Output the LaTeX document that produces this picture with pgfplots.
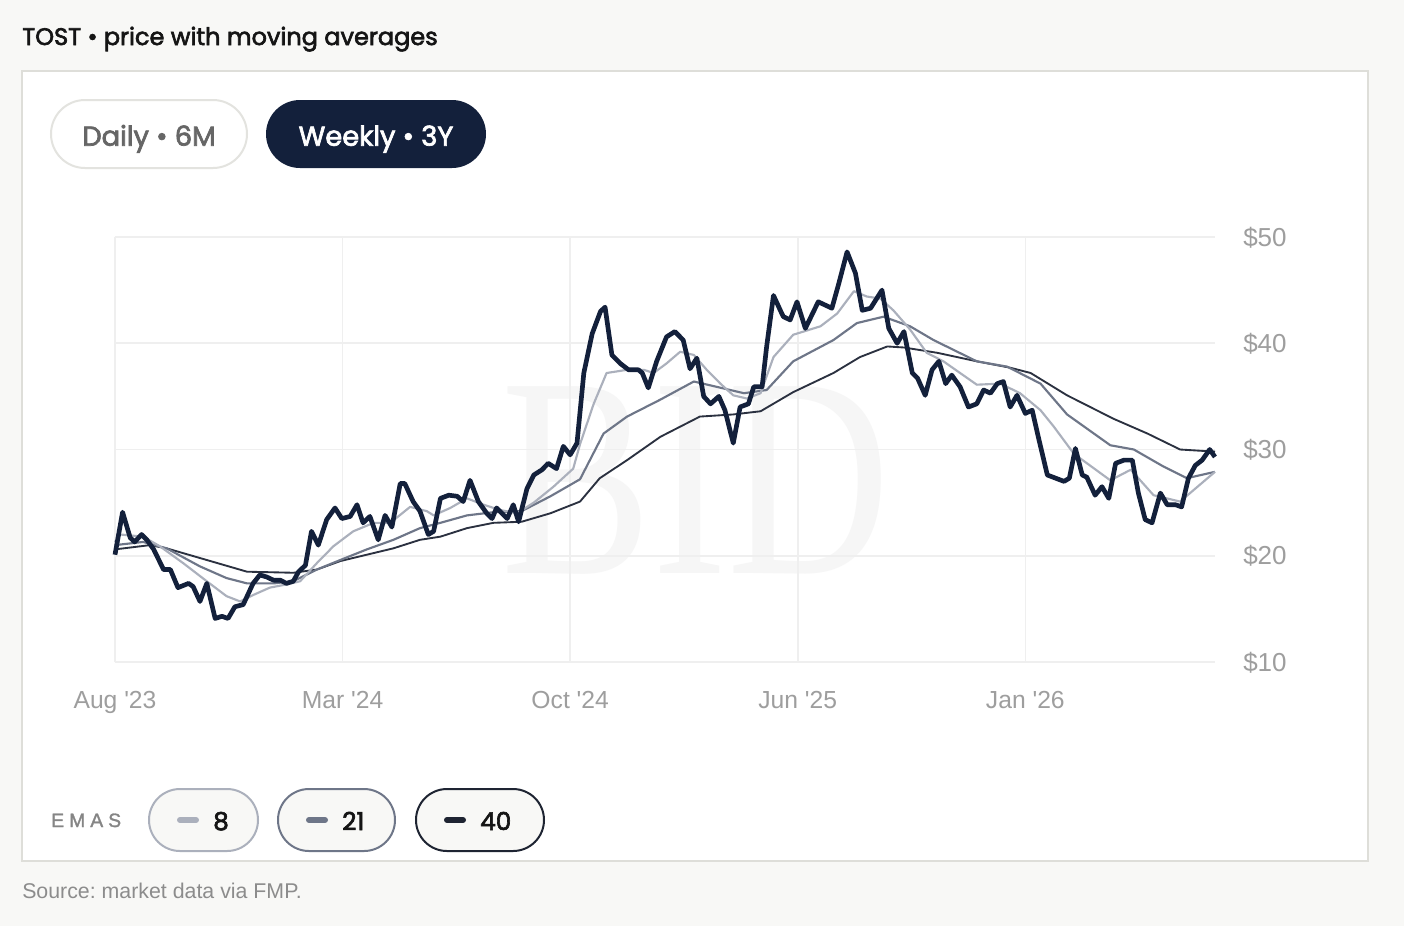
\documentclass[border=0pt]{standalone}
\usepackage{pgfplots}
\pgfplotsset{compat=1.18}
\usepackage{fontspec}
\setmainfont{Liberation Sans}
\newfontfamily\pop{Poppins}[FakeBold=2.6]
\newfontfamily\serifwm{Liberation Serif}
\frenchspacing
\definecolor{bg}{HTML}{F8F8F6}
\definecolor{cardb}{HTML}{DEDED9}
\definecolor{navy}{HTML}{13203B}
\definecolor{pillb}{HTML}{E3E3DF}
\definecolor{dailyc}{HTML}{666666}
\definecolor{gridc}{HTML}{EFEFEF}
\definecolor{emaA}{HTML}{ABB0BC}
\definecolor{emaB}{HTML}{6E7688}
\definecolor{emaC}{HTML}{2B3140}
\definecolor{emaCb}{HTML}{1E2432}
\definecolor{tickc}{HTML}{9E9E9E}
\definecolor{wm}{HTML}{F6F6F6}
\definecolor{titlec}{HTML}{151515}
\definecolor{emasc}{HTML}{858585}
\definecolor{srcc}{HTML}{8C8C8C}
\begin{document}
\begin{tikzpicture}
\begin{scope}[x=0.75pt,y=-0.75pt]
\fill[bg] (0,0) rectangle (1404,926);
\filldraw[fill=white, draw=cardb, line width=1.5pt] (22,71) rectangle (1368,861);
\node[anchor=base west, inner sep=0pt, text=titlec, font=\pop\fontsize{18}{20}\selectfont] at (22,45) {TOST • price with moving averages};
\filldraw[fill=white, draw=pillb, line width=1.5pt, rounded corners=25.5pt] (51,100) rectangle (247,168);
\node[anchor=base, inner sep=0pt, text=dailyc, font=\pop\fontsize{20.5}{22}\selectfont] at (149,145.7) {Daily • 6M};
\fill[navy, rounded corners=25.5pt] (266,100) rectangle (486,168);
\node[anchor=base, inner sep=0pt, text=white, font=\pop\fontsize{20.5}{22}\selectfont] at (376,145.7) {Weekly • 3Y};
\node[anchor=base, inner sep=0pt, text=wm, font=\serifwm\fontsize{214}{214}\selectfont, xscale=0.79] at (696,573) {BID};
% legend
\node[anchor=base west, inner sep=0pt, text=emasc, font=\fontsize{14.5}{16}\selectfont\addfontfeatures{LetterSpace=26,FakeBold=1.5}] at (51,827) {EMAS};
\filldraw[fill=bg, draw=emaA, line width=1.5pt, rounded corners=23.25pt] (149,789) rectangle (258,851);
\draw[emaA, line width=4.5pt, line cap=round] (180,820) -- (196,820);
\node[anchor=base west, inner sep=0pt, text=titlec, font=\pop\fontsize{18.5}{20}\selectfont] at (213,830) {8};
\filldraw[fill=bg, draw=emaB, line width=1.5pt, rounded corners=23.25pt] (278,789) rectangle (395,851);
\draw[emaB, line width=4.5pt, line cap=round] (309,820) -- (325,820);
\node[anchor=base west, inner sep=0pt, text=titlec, font=\pop\fontsize{18.5}{20}\selectfont] at (342,830) {21};
\filldraw[fill=bg, draw=emaCb, line width=1.5pt, rounded corners=23.25pt] (416,789) rectangle (544,851);
\draw[emaCb, line width=4.5pt, line cap=round] (447,820) -- (463,820);
\node[anchor=base west, inner sep=0pt, text=titlec, font=\pop\fontsize{18.5}{20}\selectfont] at (480,830) {40};
\node[anchor=base west, inner sep=0pt, text=srcc, font=\fontsize{16}{18}\selectfont] at (22,898) {Source: market data via FMP.};
\end{scope}
\begin{axis}[
 at={(86.25pt,-496.5pt)}, anchor=south west,
 width=825pt, height=318.75pt, scale only axis,
 xmin=0, xmax=145, ymin=10, ymax=50,
 axis line style={draw=none},
 xtick={0,30,60,90,120},
 xticklabels={Aug \textquotesingle23, Mar \textquotesingle24, Oct \textquotesingle24, Jun \textquotesingle25, Jan \textquotesingle26},
 ytick={10,20,30,40,50},
 yticklabels={\$10,\$20,\$30,\$40,\$50},
 yticklabel pos=right,
 major tick length=0pt,
 grid=major, major grid style={draw=gridc, line width=1.2pt},
 ticklabel style={font=\fontsize{18.5}{20}\selectfont, text=tickc, inner sep=0pt},
 xticklabel style={anchor=base, yshift=-34.5pt},
 yticklabel style={anchor=base west, xshift=21pt, yshift=-6.75pt, font=\fontsize{19.5}{21}\selectfont},
 clip=false,
]
\addplot[emaC, line width=1.4pt, line join=round] coordinates {
(0,20.6)(4.6,21.0)(6.8,20.7)(12.1,19.6)(17.4,18.5)(23.5,18.4)(26.6,18.7)(29.7,19.5)(33.2,20.1)(36.7,20.7)(40.2,21.5)(42.9,21.8)(46.4,22.6)(49.9,23.1)(53.6,23.2)(57.4,24.0)(61.3,25.1)(63.9,27.3)(67.5,29.0)(71.9,31.2)(77.1,33.1)(81.5,33.3)(85.1,33.6)(89.4,35.4)(94.7,37.2)(98.2,38.7)(101.8,39.7)(104.0,39.6)(108.4,39.1)(113.6,38.3)(118.0,37.7)(120.7,37.2)(125.5,35.1)(131.6,32.9)(136.1,31.5)(140.4,30.0)(145,29.8)};
\addplot[emaB, line width=1.6pt, line join=round] coordinates {
(0,21.0)(3.7,21.3)(6.8,20.7)(11.2,19.0)(14.7,17.9)(17.4,17.4)(20.9,17.4)(23.5,17.6)(26.6,18.7)(29.7,19.6)(33.2,20.6)(36.7,21.5)(40.2,22.6)(42.9,23.1)(46.4,23.8)(49.9,24.1)(53.6,24.2)(57.4,25.6)(61.3,27.2)(64.4,31.5)(67.5,33.1)(71.9,34.7)(76.3,36.4)(79.3,35.9)(82.9,35.3)(85.9,35.6)(89.4,38.3)(94.7,40.3)(97.8,41.9)(101.3,42.5)(104.8,41.6)(107.9,40.3)(113.6,38.3)(117.6,37.8)(122.0,36.2)(125.5,33.3)(131.2,30.4)(134.3,30.0)(138.2,28.4)(141.3,27.3)(145,27.9)};
\addplot[emaA, line width=1.6pt, line join=round] coordinates {
(0,21.3)(0.7,22.0)(3.7,21.8)(5.9,20.9)(9.0,19.3)(12.1,17.6)(14.7,16.2)(16.5,15.7)(18.2,16.3)(20.4,17.0)(22.6,17.3)(24.4,17.6)(26.6,19.3)(28.8,20.9)(31.4,22.3)(34.1,23.1)(36.3,23.1)(38.9,24.6)(41.1,24.2)(42.0,23.8)(44.2,24.5)(46.4,25.4)(48.6,24.8)(50.8,24.3)(53.0,24.0)(55.2,25.0)(57.8,26.5)(60.4,28.2)(61.3,30.5)(63.1,34.3)(64.8,37.2)(67.5,37.5)(69.7,37.5)(71.0,37.2)(72.7,38.1)(74.5,39.2)(76.3,38.9)(78.0,37.5)(79.8,36.2)(81.5,35.1)(83.3,34.8)(85.1,35.3)(86.8,38.7)(89.4,40.8)(93.0,41.6)(95.2,42.8)(97.4,44.9)(99.1,44.4)(100.9,44.2)(102.6,43.1)(104.8,41.3)(107.0,39.1)(109.2,38.3)(113.6,36.1)(116.7,36.2)(119.3,35.3)(122.0,33.7)(123.7,32.2)(126.4,29.6)(131.2,27.1)(133.9,28.1)(136.9,25.7)(140.4,25.1)(142.7,26.5)(145,27.9)};
\addplot[navy, line width=3.5pt, line join=round] coordinates {
(0,20.1)(1,24.1)(2,21.7)(2.6,21.3)(3.5,22.0)(4.2,21.5)(5.1,20.6)(6.4,18.7)(7.3,18.7)(8.3,17.0)(9.7,17.4)(10.3,17.1)(11.2,15.7)(12.1,17.4)(13.2,14.1)(14.1,14.3)(14.9,14.1)(15.8,15.2)(16.9,15.4)(18.2,17.4)(19.1,18.2)(20.0,18.0)(20.9,17.7)(21.8,17.7)(22.6,17.4)(23.5,17.6)(24.2,18.5)(25.1,19.1)(25.9,22.3)(26.8,21.0)(27.9,23.4)(29.0,24.5)(29.9,23.5)(31.0,23.7)(31.9,24.8)(32.7,23.1)(33.6,23.7)(34.7,21.5)(35.6,23.8)(36.5,22.7)(37.6,26.8)(38.2,26.8)(39.3,25.1)(40.2,24.2)(41.3,22.0)(42.0,22.3)(42.9,25.4)(44.0,25.7)(45.1,25.6)(45.9,25.1)(46.8,27.1)(47.9,25.1)(49.0,24.0)(49.7,23.5)(50.3,24.5)(51.0,24.0)(51.7,23.5)(52.5,24.8)(53.2,23.2)(54.3,26.3)(55.2,27.6)(56.3,28.1)(57.1,28.7)(58.2,28.2)(59.1,30.3)(60.0,29.5)(60.9,30.6)(61.8,37.2)(62.9,40.9)(64.0,43.0)(64.6,43.4)(65.5,38.9)(66.6,38.1)(67.7,37.5)(69.0,37.5)(69.5,37.2)(70.3,35.8)(71.4,38.3)(72.7,40.6)(73.8,41.1)(74.9,40.3)(75.8,37.6)(76.7,38.6)(77.6,35.0)(78.5,34.3)(79.6,35.0)(80.4,33.7)(81.5,30.6)(82.4,34.0)(83.5,34.3)(84.2,35.9)(85.3,35.9)(85.9,39.7)(86.8,44.5)(87.7,43.1)(88.1,42.5)(89.0,42.2)(89.9,43.9)(91.0,41.4)(92.7,43.9)(94.5,43.3)(95.4,45.6)(96.5,48.6)(97.6,46.6)(98.5,43.1)(99.6,43.3)(101.1,45.0)(102.0,41.4)(103.1,40.0)(104.0,41.1)(105.1,37.2)(105.8,36.7)(106.8,35.1)(107.7,37.5)(108.6,38.3)(109.5,36.2)(110.3,37.0)(111.4,35.9)(112.5,34.0)(113.6,34.3)(114.5,35.6)(115.4,35.3)(116.3,36.2)(117.1,36.4)(118.0,34.0)(118.9,35.1)(120.0,33.4)(120.9,33.7)(121.8,30.9)(122.9,27.6)(124.0,27.3)(125.1,27.0)(125.8,27.3)(126.6,30.1)(127.5,27.6)(128.1,27.4)(129.2,25.7)(130.1,26.5)(131.0,25.4)(131.9,28.7)(133.0,29.0)(134.1,29.0)(134.9,25.9)(135.8,23.4)(136.7,23.1)(137.8,25.9)(138.7,24.8)(139.8,24.8)(140.6,24.6)(141.5,27.3)(142.4,28.5)(143.3,29.0)(144.3,30.0)(145,29.3)};
\end{axis}
\end{tikzpicture}
\end{document}
